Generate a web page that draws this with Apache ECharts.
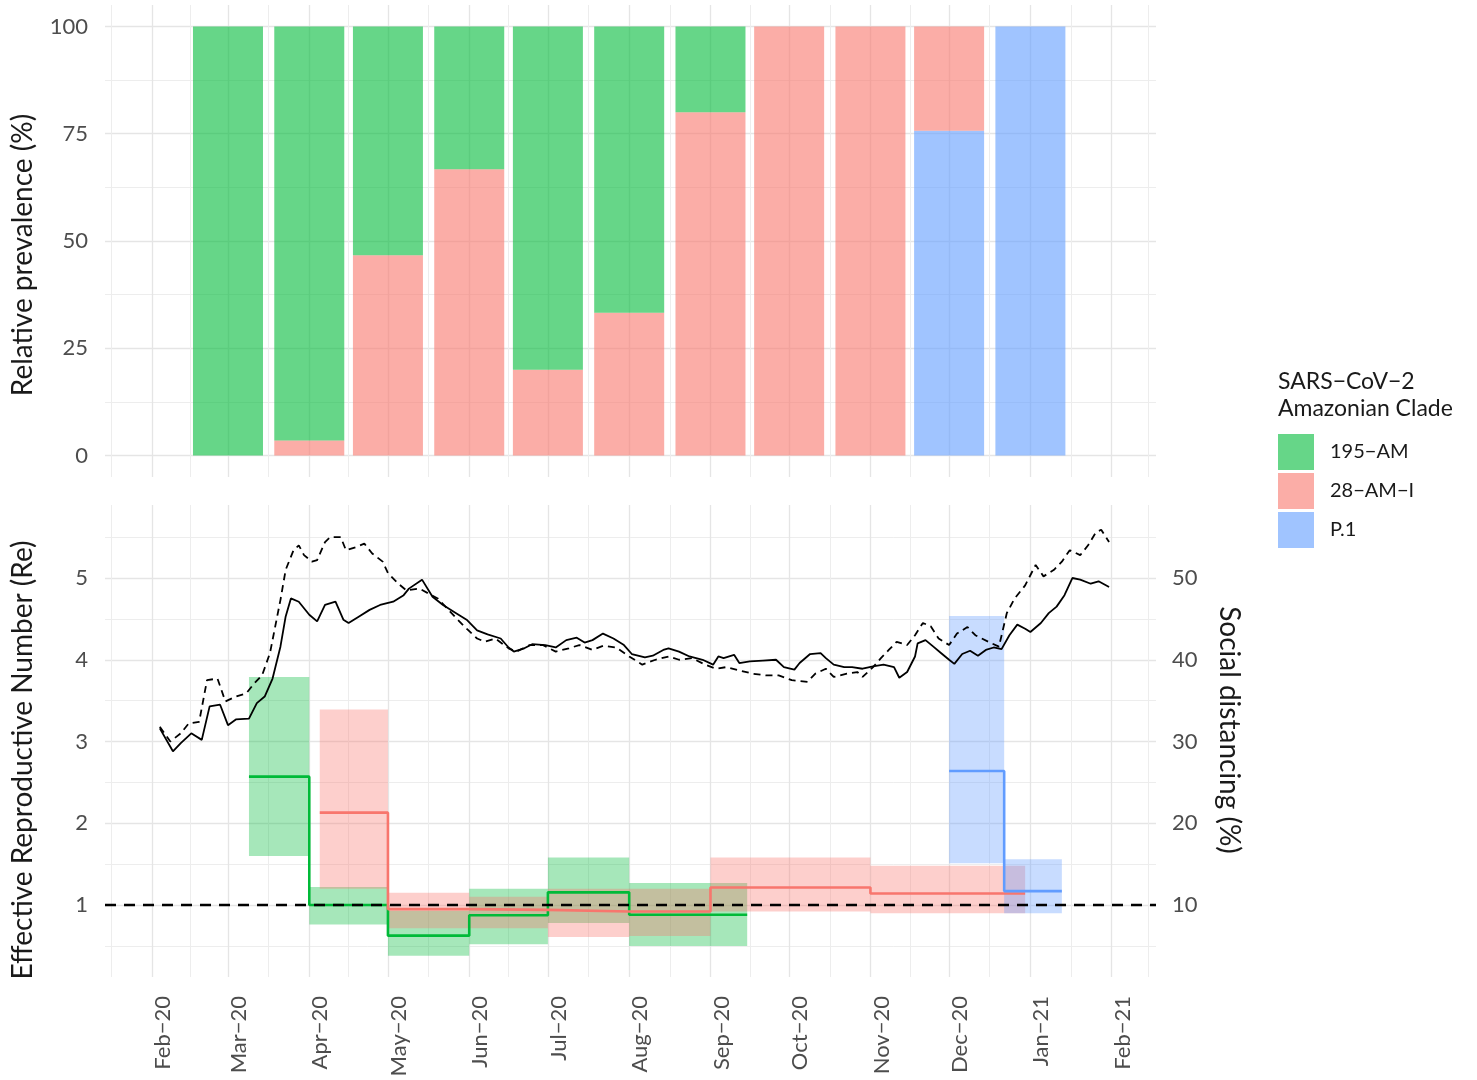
<!DOCTYPE html>
<html><head><meta charset="utf-8">
<script src="https://cdn.jsdelivr.net/npm/echarts@6/dist/echarts.min.js"></script>
<style>html,body{margin:0;padding:0;background:#fff}#c{width:1477px;height:1080px}</style>
</head><body><div id="c"></div>
<script>
// ---------------- data ----------------
const monthTicks = ['2020-02-01','2020-03-01','2020-04-01','2020-05-01','2020-06-01','2020-07-01','2020-08-01','2020-09-01','2020-10-01','2020-11-01','2020-12-01','2021-01-01','2021-02-01'];
const monthLabels = ['Feb−20','Mar−20','Apr−20','May−20','Jun−20','Jul−20','Aug−20','Sep−20','Oct−20','Nov−20','Dec−20','Jan−21','Feb−21'];
const gridMonths = ['2020-01-01'].concat(monthTicks, ['2021-03-01']);

const cladeNames = ['195−AM','28−AM−I','P.1'];
const barMonths = ['2020-03-01','2020-04-01','2020-05-01','2020-06-01','2020-07-01','2020-08-01','2020-09-01','2020-10-01','2020-11-01','2020-12-01','2021-01-01'];
const clade195 = [100, 96.5, 53.3, 33.3, 80, 66.7, 20, 0, 0, 0, 0];
const clade28  = [0, 3.5, 46.7, 66.7, 20, 33.3, 80, 100, 100, 24.3, 0];
const cladeP1  = [0, 0, 0, 0, 0, 0, 0, 0, 0, 75.7, 100];

const prevTicks = [0, 25, 50, 75, 100];
const prevMinor = [12.5, 37.5, 62.5, 87.5];
const reTicks = [1, 2, 3, 4, 5];
const reMinor = [0.5, 1.5, 2.5, 3.5, 4.5, 5.5];
const sdTicks = [10, 20, 30, 40, 50];
const reReference = 1;

// [start, end, Re, low, high]
const re195 = [
  ['2020-03-09','2020-04-01',2.57,1.60,3.79],
  ['2020-04-01','2020-05-01',1.00,0.76,1.22],
  ['2020-05-01','2020-06-01',0.625,0.38,0.93],
  ['2020-06-01','2020-07-01',0.875,0.52,1.20],
  ['2020-07-01','2020-08-01',1.155,0.78,1.58],
  ['2020-08-01','2020-09-15',0.88,0.50,1.27]
];
const re28 = [
  ['2020-04-05','2020-05-01',2.13,1.20,3.39],
  ['2020-05-01','2020-06-01',0.95,0.715,1.15],
  ['2020-06-01','2020-07-01',0.94,0.715,1.10],
  ['2020-07-01','2020-08-01',0.92,0.61,1.20],
  ['2020-08-01','2020-09-01',0.92,0.62,1.20],
  ['2020-09-01','2020-11-01',1.215,0.92,1.58],
  ['2020-11-01','2020-12-30',1.14,0.90,1.48]
];
const reP1 = [
  ['2020-12-01','2020-12-22',2.64,1.51,4.535],
  ['2020-12-22','2021-01-13',1.17,0.90,1.56]
];

// social distancing (%), [days since distStart, value]
const distStart = '2020-02-01';
const distSolid = [[3,31.6],[8,28.8],[11,29.8],[15,31.0],[19,30.2],[22,34.3],[26,34.5],[29,32.0],[32,32.7],[37,32.8],[40,34.7],[43,35.5],[46,37.7],[49,41.6],[51,45.3],[53,47.5],[56,47.1],[60,45.5],[63,44.7],[66,46.7],[70,47.1],[73,44.9],[75,44.5],[79,45.3],[83,46.1],[87,46.7],[92,47.1],[96,47.9],[98,48.7],[103,49.8],[107,47.7],[111,46.7],[116,45.7],[120,44.9],[124,43.6],[128,43.1],[133,42.6],[136,41.5],[138,41.0],[142,41.4],[145,41.9],[150,41.8],[154,41.5],[158,42.4],[162,42.7],[165,42.1],[168,42.4],[172,43.2],[176,42.6],[180,41.8],[183,40.7],[188,40.3],[191,40.5],[195,41.2],[197,41.4],[201,41.0],[205,40.4],[210,40.0],[214,39.4],[216,40.4],[218,40.2],[222,40.6],[224,39.6],[228,39.8],[233,39.9],[238,40.0],[241,39.1],[245,38.8],[247,39.6],[251,40.7],[255,40.8],[257,40.2],[260,39.4],[264,39.1],[267,39.1],[271,38.9],[275,39.2],[279,39.4],[283,39.1],[285,37.8],[288,38.5],[291,40.4],[292,42.0],[295,42.4],[298,41.6],[301,40.8],[304,40.0],[306,39.5],[309,40.7],[312,41.1],[315,40.5],[318,41.2],[321,41.5],[324,41.3],[327,43.0],[330,44.3],[333,43.8],[335,43.4],[339,44.5],[342,45.7],[345,46.5],[348,47.9],[351,50.0],[354,49.8],[358,49.3],[361,49.6],[365,48.9]];
const distDashed = [[3,31.8],[7,30.0],[11,31.0],[14,32.2],[18,32.4],[21,37.5],[25,37.7],[28,34.9],[32,35.5],[36,35.9],[39,37.1],[42,38.1],[45,40.8],[49,47.3],[51,51.0],[54,53.4],[56,54.0],[58,52.8],[61,52.0],[63,52.2],[66,54.4],[68,55.0],[72,55.0],[74,53.4],[78,53.8],[81,54.2],[84,53.0],[88,52.0],[90,50.6],[94,49.3],[97,48.5],[102,48.7],[109,47.5],[116,45.1],[120,43.8],[124,42.6],[127,42.2],[131,42.6],[136,41.4],[139,41.0],[144,41.8],[149,41.8],[154,41.0],[159,41.4],[163,41.8],[168,41.2],[172,41.7],[177,41.5],[182,40.4],[187,39.4],[192,40.0],[197,40.4],[201,40.0],[206,40.2],[211,39.4],[215,38.9],[219,39.1],[224,38.7],[229,38.3],[234,38.1],[239,38.1],[244,37.5],[250,37.3],[253,38.3],[257,38.9],[260,37.9],[265,38.3],[269,38.5],[271,37.9],[275,39.1],[278,40.2],[281,41.2],[284,42.2],[288,41.8],[291,43.0],[294,44.5],[297,44.1],[300,42.6],[304,41.8],[307,43.2],[311,44.0],[314,43.0],[319,42.2],[323,41.6],[326,45.7],[329,47.5],[333,49.1],[337,51.6],[340,50.2],[344,51.0],[347,52.0],[350,53.4],[354,52.8],[357,54.0],[360,55.6],[362,55.9],[365,54.4]];

// ---------------- helpers / styles ----------------
const DAY = 86400000;
const t = s => Date.parse(s + 'T00:00:00Z');
const t0 = t(distStart);
const xMin = t0 - 17.9 * DAY, xMax = t0 + 382.9 * DAY;
const FONT = 'Lato';
const col = {g:'0,186,56', r:'248,118,109', b:'97,156,255'};
const majorLS = {color:'#e5e5e5', width:1.3, type:'solid'};
const minorLS = {color:'#ededed', width:1, type:'solid'};
const monthTs = monthTicks.map(t);
const minorTs = [];
for (let i = 1; i < gridMonths.length; i++) minorTs.push((t(gridMonths[i-1]) + t(gridMonths[i])) / 2);

function gridMarks(hMajor, hMinor) {
  const d = [];
  hMinor.forEach(v => d.push({yAxis:v, lineStyle:minorLS}));
  hMajor.forEach(v => d.push({yAxis:v, lineStyle:majorLS}));
  minorTs.filter(v => v > xMin && v < xMax).forEach(v => d.push({xAxis:v, lineStyle:minorLS}));
  monthTs.forEach(v => d.push({xAxis:v, lineStyle:majorLS}));
  return d;
}
function helper(xi, yi, hMajor, hMinor) {
  return {type:'line', xAxisIndex:xi, yAxisIndex:yi, data:[], silent:true, z:0,
    markLine:{silent:true, symbol:['none','none'], z:0, animation:false, label:{show:false},
      emphasis:{disabled:true}, data:gridMarks(hMajor, hMinor)}};
}
// stacked bars: bottom to top P.1, 28-AM-I, 195-AM
const stackOrder = [[cladeNames[2], cladeP1, col.b], [cladeNames[1], clade28, col.r], [cladeNames[0], clade195, col.g]];
const cum = barMonths.map(() => 0);
const barSeries = stackOrder.map(([name, arr, c]) => {
  const data = barMonths.map((m, i) => { const lo = cum[i]; cum[i] += arr[i]; return [t(m), lo, cum[i]]; });
  return {type:'custom', name:name, xAxisIndex:0, yAxisIndex:0, z:2, silent:true,
    itemStyle:{color:'rgba(' + c + ',0.6)'},
    data:data, encode:{x:0, y:[1,2]},
    renderItem:(params, api) => {
      const lo = api.value(1), hi = api.value(2);
      if (hi - lo <= 0) return null;
      const pTop = api.coord([api.value(0), hi]);
      const pBot = api.coord([api.value(0), lo]);
      return {type:'rect', shape:{x:pTop[0]-35, y:pTop[1], width:70, height:pBot[1]-pTop[1]},
        style:{fill:'rgba(' + c + ',0.6)'}};
    }};
});
function ribbon(segs, c) {
  return {type:'custom', xAxisIndex:1, yAxisIndex:1, z:3, silent:true,
    data: segs.map(s => [t(s[0]), t(s[1]), s[2], s[3], s[4]]),
    encode:{x:[0,1], y:[2,3,4]},
    renderItem:(params, api) => {
      const p0 = api.coord([api.value(0), api.value(4)]);
      const p1 = api.coord([api.value(1), api.value(3)]);
      return {type:'rect', shape:{x:p0[0], y:p0[1], width:p1[0]-p0[0], height:p1[1]-p0[1]},
        style:{fill:'rgba(' + c + ',0.35)'}};
    }};
}
function step(name, segs, c) {
  const d = [];
  segs.forEach(s => { d.push([t(s[0]), s[2]]); d.push([t(s[1]), s[2]]); });
  return {type:'line', name:name, xAxisIndex:1, yAxisIndex:1, z:4, data:d, symbol:'none',
    lineStyle:{color:'rgb(' + c + ')', width:2.6}, itemStyle:{color:'rgb(' + c + ')'}, silent:true};
}
function distance(name, arr, dash) {
  return {type:'line', name:name, xAxisIndex:1, yAxisIndex:2, z:5, symbol:'none', silent:true,
    data: arr.map(p => [t0 + p[0]*DAY, p[1]]),
    lineStyle:{color:'#000', width:1.8, type: dash ? [7,5] : 'solid'}};
}

const labelStyle = {color:'#4d4d4d', fontSize:22, fontFamily:FONT};
const xBase = {type:'value', min:xMin, max:xMax, axisLine:{show:false}, axisTick:{show:false}, splitLine:{show:false}, minorSplitLine:{show:false}};
const titleStyle = {font:'28px ' + FONT, fill:'#1a1a1a', align:'center', verticalAlign:'middle', textAlign:'center', textVerticalAlign:'middle'};

const option = {
  backgroundColor:'#fff',
  animation:false,
  grid:[
    {left:105, top:5, width:1051, height:472},
    {left:105, top:505, width:1051, height:472}
  ],
  xAxis:[
    Object.assign({gridIndex:0, axisLabel:{show:false}}, xBase),
    Object.assign({gridIndex:1, axisLabel:Object.assign({customValues:monthTs, rotate:90, margin:19, interval:0,
      verticalAlign:'top',
      formatter:v => { const i = monthTs.indexOf(v); return i >= 0 ? monthLabels[i] : ''; }}, labelStyle)}, xBase)
  ],
  yAxis:[
    {gridIndex:0, type:'value', min:-5, max:105, axisLine:{show:false}, axisTick:{show:false}, splitLine:{show:false},
      axisLabel:Object.assign({customValues:prevTicks, margin:17}, labelStyle)},
    {gridIndex:1, type:'value', min:0.1193, max:5.893, axisLine:{show:false}, axisTick:{show:false}, splitLine:{show:false},
      axisLabel:Object.assign({customValues:reTicks, margin:17}, labelStyle)},
    {gridIndex:1, type:'value', position:'right', min:1.193, max:58.93, axisLine:{show:false}, axisTick:{show:false}, splitLine:{show:false},
      axisLabel:Object.assign({customValues:sdTicks, margin:16}, labelStyle)}
  ],
  legend:{
    data:cladeNames, orient:'vertical', left:1278, top:434, padding:0, itemWidth:36, itemHeight:36, itemGap:3,
    icon:'rect', selectedMode:false,
    textStyle:{fontSize:20, fontFamily:FONT, color:'#1a1a1a', padding:[0,0,0,11]}
  },
  graphic:[
    {type:'text', left:1278, top:368, style:{text:'SARS−CoV−2\nAmazonian Clade', font:'23px ' + FONT, lineHeight:27, fill:'#1a1a1a'}},
    {type:'text', x:23, y:255, rotation:Math.PI/2, style:Object.assign({text:'Relative prevalence (%)'}, titleStyle)},
    {type:'text', x:23, y:760, rotation:Math.PI/2, style:Object.assign({text:'Effective Reproductive Number (Re)'}, titleStyle)},
    {type:'text', x:1229, y:730, rotation:-Math.PI/2, style:Object.assign({text:'Social distancing (%)'}, titleStyle)}
  ],
  series: [helper(0, 0, prevTicks, prevMinor), helper(1, 1, reTicks, reMinor)].concat(barSeries, [
    ribbon(re195, col.g),
    ribbon(re28, col.r),
    ribbon(reP1, col.b),
    step('Re 195−AM', re195, col.g),
    step('Re 28−AM−I', re28, col.r),
    step('Re P.1', reP1, col.b),
    distance('Social distancing A', distSolid, false),
    distance('Social distancing B', distDashed, true),
    {type:'line', name:'Re = 1', xAxisIndex:1, yAxisIndex:1, data:[], silent:true, z:6,
      markLine:{silent:true, symbol:['none','none'], animation:false, label:{show:false}, z:6,
        lineStyle:{color:'#000', width:2.4, type:[11,8]}, data:[{yAxis:reReference}]}}
  ])
};
const chart = echarts.init(document.getElementById('c'), null, {renderer:'canvas'});
chart.setOption(option);
</script>
</body></html>
